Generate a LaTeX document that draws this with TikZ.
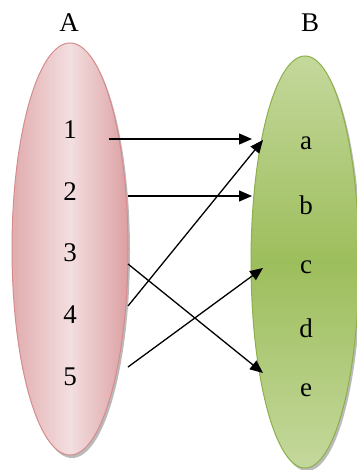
\documentclass[tikz,border=0pt]{standalone}
\usepackage{fontspec}
\setmainfont{Liberation Serif}
\usetikzlibrary{arrows.meta,shadings}
\definecolor{pinkedge}{RGB}{214,140,140}
\definecolor{pinkdark}{RGB}{225,172,174}
\definecolor{pinkright}{RGB}{220,160,162}
\definecolor{pinklight}{RGB}{243,222,224}
\definecolor{greenedge}{RGB}{140,176,74}
\definecolor{greendark}{RGB}{157,190,92}
\definecolor{greenlight}{RGB}{196,216,156}
\tikzset{
  lbl/.style={font=\fontsize{27}{30}\selectfont, inner sep=0pt},
  conn/.style={line width=1.3pt, -{Triangle[length=13pt,width=11pt]}},
  shadowell/.style={fill=black!45, opacity=0.6},
}
\begin{document}
\begin{tikzpicture}[x=1pt,y=-1pt]
\useasboundingbox (0,0) rectangle (356,470);
% shadows
\fill[shadowell] (72,252) ellipse [x radius=58, y radius=206];
\fill[shadowell] (307,265) ellipse [x radius=54, y radius=206];
% ellipse A
\shade[left color=pinkdark, right color=pinkright, middle color=pinklight, draw=pinkedge, line width=1pt]
  (70,249) ellipse [x radius=58, y radius=206];
% ellipse B
\shade[top color=greenlight, bottom color=greenlight, middle color=greendark, draw=greenedge, line width=1pt]
  (305,262) ellipse [x radius=54, y radius=206];
% titles
\node[lbl] (A) at (69,23) {A};
\node[lbl] (B) at (310,23) {B};
% elements
\node[lbl] (n1) at (70,130) {1};
\node[lbl] (n2) at (70,192) {2};
\node[lbl] (n3) at (70,253) {3};
\node[lbl] (n4) at (70,315) {4};
\node[lbl] (n5) at (70,377) {5};
\node[lbl] (la) at (306,143) {a};
\node[lbl] (lb) at (306,205) {b};
\node[lbl] (lc) at (306,267) {c};
\node[lbl] (ld) at (306,328) {d};
\node[lbl] (le) at (306,390) {e};
% connector end points
\coordinate (s1) at (109,139);
\coordinate (s2) at (128,196);
\coordinate (s3) at (128,264);
\coordinate (s4) at (128,306);
\coordinate (s5) at (128,367);
\coordinate (ta1) at (252,139);
\coordinate (ta2) at (263,140);
\coordinate (tb) at (252,196);
\coordinate (tc) at (263,268);
\coordinate (te) at (263,373);
\draw[conn] (s1) -- (ta1);
\draw[conn] (s2) -- (tb);
\draw[conn] (s3) -- (te);
\draw[conn] (s4) -- (ta2);
\draw[conn] (s5) -- (tc);
\end{tikzpicture}
\end{document}
